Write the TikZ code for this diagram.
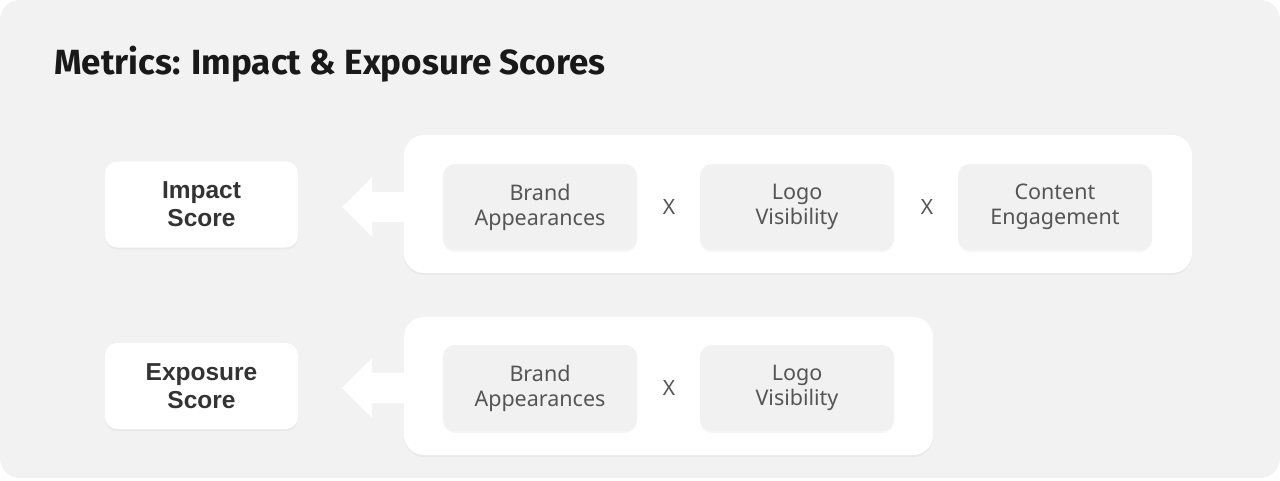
\documentclass[tikz,border=0pt]{standalone}
\usepackage{fontspec}
\setmainfont{Noto Sans}
\newfontfamily\titlefont{Fira Sans}
\newfontfamily\scorefont{Liberation Sans}
\usetikzlibrary{shadows,arrows.meta}
\definecolor{bg}{HTML}{F2F2F2}
\definecolor{innerbox}{HTML}{F1F1F1}
\definecolor{darktext}{HTML}{333333}
\definecolor{softtext}{HTML}{555555}
\tikzset{
  softshadow/.style={drop shadow={opacity=0.07, shadow xshift=0pt, shadow yshift=-2pt}},
  scorebox/.style={fill=white, rounded corners=12pt, minimum width=193pt, minimum height=86pt,
    align=center, text=darktext, font=\scorefont\bfseries\fontsize{24.5}{28}\selectfont, softshadow, inner sep=0pt},
  container/.style={fill=white, rounded corners=20pt, minimum height=138pt, softshadow, inner sep=0pt},
  factor/.style={fill=innerbox, rounded corners=12pt, minimum width=194pt, minimum height=86pt,
    align=center, text=softtext, font=\fontsize{21.5}{25}\selectfont, softshadow, inner sep=0pt},
  times/.style={text=softtext, font=\fontsize{21}{25}\selectfont, inner sep=0pt},
  bigarrow/.style={draw=white, line width=30pt, -{Triangle[length=30pt, width=58pt]}}
}
\begin{document}
\begin{tikzpicture}[x=1pt,y=-1pt]
\useasboundingbox (0,0) rectangle (1280,480);
\fill[white] (0,0) rectangle (1280,480);
\fill[bg, rounded corners=20pt] (0,0) rectangle (1280,478);

\node[anchor=base west, text=black!90, font=\titlefont\bfseries\fontsize{35}{40}\selectfont, inner sep=0pt]
  (title) at (54,74) {Metrics: Impact \& Exposure Scores};

% Impact row
\node[container, minimum width=788pt] (impc) at (798,204) {};
\node[scorebox] (impact) at (201.5,204.5) {Impact\\Score};
\node[factor] (ib1) at (540,207) {Brand\\Appearances};
\node[times] (ix1) at (669,207) {X};
\node[factor] (ib2) at (797,207) {Logo\\Visibility};
\node[times] (ix2) at (927,207) {X};
\node[factor] (ib3) at (1055,207) {Content\\Engagement};
\coordinate (a1) at (342,207);
\draw[bigarrow] (impc.west |- a1) -- (a1);

% Exposure row
\node[container, minimum width=529pt] (expc) at (668.5,386) {};
\node[scorebox] (exposure) at (201.5,386) {Exposure\\Score};
\node[factor] (eb1) at (540,388) {Brand\\Appearances};
\node[times] (ex1) at (669,388) {X};
\node[factor] (eb2) at (797,388) {Logo\\Visibility};
\coordinate (a2) at (342,388);
\draw[bigarrow] (expc.west |- a2) -- (a2);
\end{tikzpicture}
\end{document}
